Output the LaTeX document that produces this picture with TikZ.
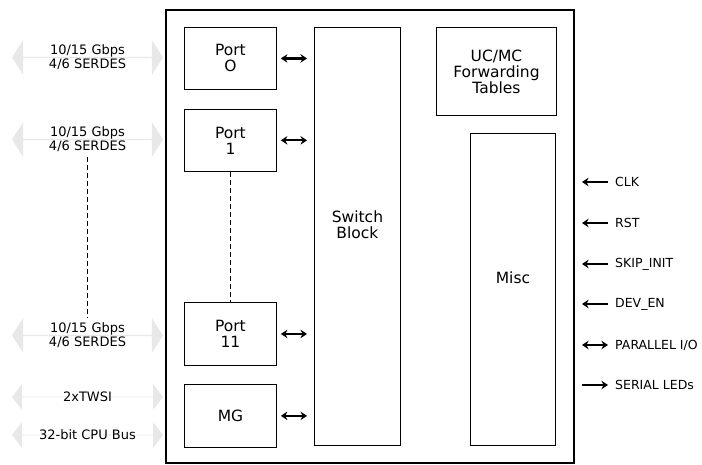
\documentclass[tikz,border=0pt]{standalone}
\usepackage{fontspec}
\setmainfont{DejaVu Sans}
\usetikzlibrary{arrows.meta,positioning,shapes.arrows}
\definecolor{busgrey}{RGB}{232,232,232}

\begin{document}
\begin{tikzpicture}[
  x=1pt, y=-1pt,
  node distance=18pt,
  chipbox/.style={draw, line width=2.5pt, inner sep=0pt, outer sep=0pt},
  block/.style={draw, line width=0.9pt, align=center, minimum width=92pt, minimum height=62pt, inner sep=0pt, font=\fontsize{15.5}{16}\selectfont},
  serdes/.style={shape=double arrow, fill=busgrey, inner sep=0pt, minimum height=151pt, minimum width=35pt, double arrow head extend=6.5pt, double arrow tip angle=115},
  mgmt/.style={serdes, minimum width=26pt, double arrow head extend=6pt, double arrow tip angle=105},
  buslabel/.style={align=center, inner sep=0pt, minimum height=35pt, font=\fontsize{13}{14}\selectfont},
  siglabel/.style={anchor=west, inner sep=0pt, font=\fontsize{12.5}{13}\selectfont},
  link/.style={{Stealth[length=6.5pt,width=8.5pt]}-{Stealth[length=6.5pt,width=8.5pt]}, line width=2.2pt, shorten <=4pt, shorten >=7pt},
  sig/.style={line width=2.2pt},
  sigin/.style={sig, {Stealth[length=6.5pt,width=8.5pt]}-},
  sigout/.style={sig, -{Stealth[length=6.5pt,width=8.5pt]}},
  sigboth/.style={sig, {Stealth[length=6.5pt,width=8.5pt]}-{Stealth[length=6.5pt,width=8.5pt]}}
]
\useasboundingbox (0,0) rectangle (702,464);

% chip outline
\node[chipbox, minimum width=408pt, minimum height=453pt, anchor=north west] (chip) at (166,10) {};

% inner blocks
\node[block, anchor=north west] (port0) at (184,27) {Port\\O};
\node[block, below=19pt of port0] (port1) {Port\\1};
\node[block, minimum height=63pt, anchor=north west] (port11) at (184,302) {Port\\11};
\node[block, minimum height=63pt, below=of port11] (mg) {MG};
\node[block, minimum width=86pt, minimum height=418pt, text depth=24pt, anchor=north west] (switch) at (314,27) {Switch\\Block};
\node[block, minimum width=120pt, minimum height=88pt, anchor=north west] (fwd) at (436,27) {UC/MC\\Forwarding\\Tables};
\node[block, minimum width=85pt, minimum height=312pt, text depth=24pt, anchor=north west] (misc) at (470,133) {Misc};

\foreach \p in {port0,port1,port11,mg} \draw[link] (\p) -- (switch.west |- \p);
\draw[dashed, dash pattern=on 5pt off 3pt, line width=0.9pt] (port1) -- (port11);

% external buses
\node[serdes] (bus0) at (87.5,57.5) {};
\node[buslabel] (bus0txt) at (bus0) {10/15 Gbps\\4/6 SERDES};
\node[serdes] (bus1) at (87.5,139.5) {};
\node[buslabel] (bus1txt) at (bus1) {10/15 Gbps\\4/6 SERDES};
\node[serdes] (bus11) at (87.5,335.5) {};
\node[buslabel] (bus11txt) at (bus11) {10/15 Gbps\\4/6 SERDES};
\node[mgmt] (twsi) at (87.5,397) {};
\node[buslabel] (twsitxt) at (twsi) {2xTWSI};
\node[mgmt] (cpu) at (87.5,435) {};
\node[buslabel] (cputxt) at (cpu) {32-bit CPU Bus};
\draw[dashed, dash pattern=on 5pt off 3pt, line width=0.9pt] (bus1txt.south) -- (bus11txt.north);

% control signals
\foreach \nm/\txt/\yy/\kind in {clk/CLK/182/sigin, rst/RST/223/sigin, skip/SKIP\_INIT/264/sigin, deven/DEV\_EN/304/sigin, pio/PARALLEL I\slash O/345/sigboth, leds/SERIAL LEDs/385/sigout} {
  \node[siglabel] (\nm) at (615,\yy) {\txt};
  \draw[\kind] ([xshift=8pt]chip.east |- \nm.west) -- ([xshift=-7pt]\nm.west);
}
\end{tikzpicture}
\end{document}
